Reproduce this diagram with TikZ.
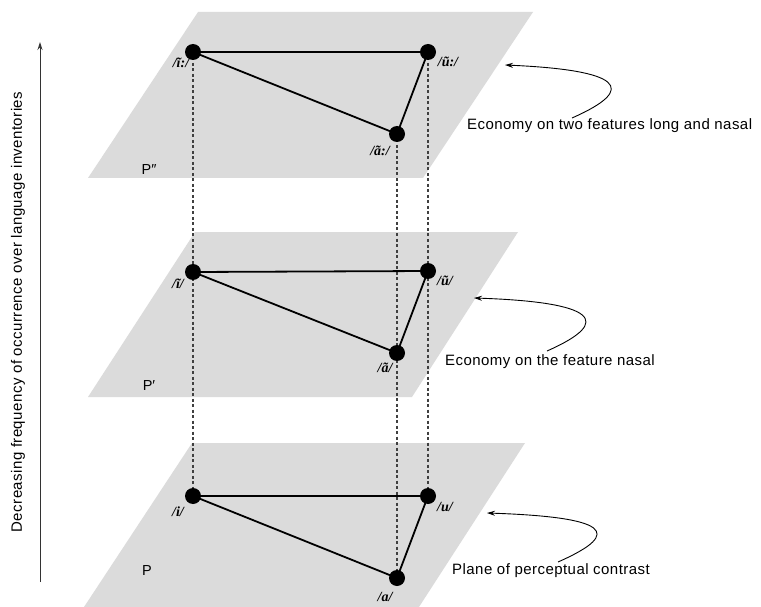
\documentclass[tikz,border=0pt]{standalone}
\usepackage{fontspec}
\setmainfont{Liberation Sans}
\newfontfamily\ipafont{Liberation Serif}
\usetikzlibrary{arrows.meta}
\pgfdeclarelayer{planes}
\pgfdeclarelayer{guides}
\pgfsetlayers{planes,guides,main}

\begin{document}
\begin{tikzpicture}[x=1pt,y=-1pt,
  plane/.style={fill=black!14,draw=none},
  vowel/.style={circle,fill=black,inner sep=0pt,minimum size=16pt},
  ipa/.style={font=\ipafont\bfseries\itshape\fontsize{14}{14}\selectfont,inner sep=0pt},
  edge/.style={line width=1.8pt},
  drop/.style={dash pattern=on 3pt off 2.5pt,draw=black!75,line width=1.1pt},
  caption/.style={font=\fontsize{15}{15}\selectfont\addfontfeature{LetterSpace=3},anchor=west,inner sep=0pt},
  planelabel/.style={font=\fontsize{14.5}{14.5}\selectfont,inner sep=0pt},
  pointer/.style={-{Stealth[length=8pt,width=5pt]},line width=0.9pt},
  axis/.style={-{Stealth[length=8pt,width=5pt]},line width=0.9pt,draw=black!80}
]
\useasboundingbox (0,0) rectangle (761,607);

% three stacked planes
\begin{pgfonlayer}{planes}
  \fill[plane] (88,178) -- (423,178) -- (533,12) -- (198,12) -- cycle;
  \fill[plane] (88,397) -- (412,397) -- (518,232) -- (195,232) -- cycle;
  \fill[plane] (84,607) -- (419,607) -- (525,443) -- (192,443) -- cycle;
\end{pgfonlayer}

% vowels of plane P''
\node[vowel] (ti) at (193,52) {};
\node[vowel] (tu) at (428,52) {};
\node[vowel] (ta) at (397,134) {};
% vowels of plane P'
\node[vowel] (mi) at (193,272) {};
\node[vowel] (mu) at (428,271) {};
\node[vowel] (ma) at (397,353) {};
% vowels of plane P
\node[vowel] (bi) at (193,496) {};
\node[vowel] (bu) at (428,496) {};
\node[vowel] (ba) at (397,578) {};

% vowel labels
\node[ipa] (lti) at (181,63) {/ĩ:/};
\node[ipa] (ltu) at (448,62) {/ũ:/};
\node[ipa] (lta) at (380,151) {/ã:/};
\node[ipa] (lmi) at (178,284) {/ĩ/};
\node[ipa] (lmu) at (445,281) {/ũ/};
\node[ipa] (lma) at (385,368) {/ã/};
\node[ipa] (lbi) at (178,512) {/i/};
\node[ipa] (lbu) at (445,507) {/u/};
\node[ipa] (lba) at (385,597) {/a/};

% vertical correspondences and triangles
\begin{pgfonlayer}{guides}
  \draw[drop] (ti.center) -- (bi.center);
  \draw[drop] (tu.center) -- (bu.center);
  \draw[drop] (ta.center) -- (ba.center);
  \draw[edge] (ti.center) -- (tu.center) -- (ta.center) -- cycle;
  \draw[edge] (mi.center) -- (mu.center) -- (ma.center) -- cycle;
  \draw[edge] (bi.center) -- (bu.center) -- (ba.center) -- cycle;
\end{pgfonlayer}

% plane names
\node[planelabel] (pt) at (149,170) {P″};
\node[planelabel] (pm) at (149,386) {P′};
\node[planelabel] (pb) at (147,571) {P};

% captions with curved pointers
\node[caption] (ct) at (467,126) {Economy on two features long and nasal};
\node[caption] (cm) at (445,362) {Economy on the feature nasal};
\node[caption] (cb) at (452,571) {Plane of perceptual contrast};

\coordinate (st) at (572,118);
\coordinate (et) at (505,65);
\coordinate (sm) at (547,351);
\coordinate (em) at (474,298);
\coordinate (sb) at (558,562);
\coordinate (eb) at (487,513);
\draw[pointer] (st) .. controls (640,88) and (620,70) .. (et);
\draw[pointer] (sm) .. controls (615,321) and (595,302) .. (em);
\draw[pointer] (sb) .. controls (626,532) and (606,517) .. (eb);

% frequency axis
\coordinate (a0) at (40,582);
\coordinate (a1) at (40,42);
\draw[axis] (a0) -- (a1);
\node[font=\fontsize{15}{15}\selectfont\addfontfeature{LetterSpace=3},rotate=90,inner sep=0pt] (axl) at (18,312)
  {Decreasing frequency of occurrence over language inventories};
\end{tikzpicture}
\end{document}
